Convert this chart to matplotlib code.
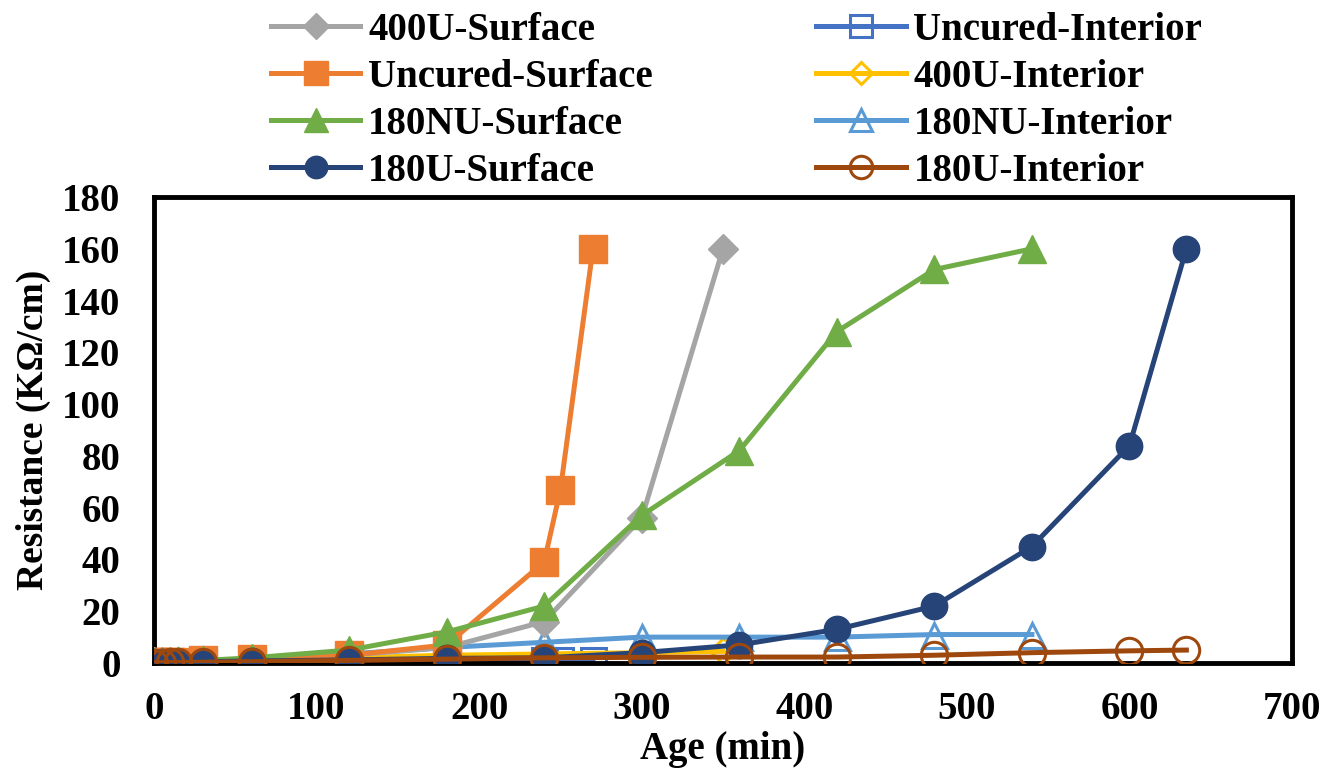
import numpy as np
import matplotlib.pyplot as plt

plt.rcParams['font.family'] = ['Liberation Serif', 'DejaVu Serif']
plt.rcParams['font.weight'] = 'bold'

# ===== 데이터 (Age min, Resistance KOhm/cm) =====
t_short = [0, 5, 10, 15, 30, 60, 120, 180, 240, 250, 270]
t_400 = [0, 5, 10, 15, 30, 60, 120, 180, 240, 300, 350]
t_180nu = [0, 5, 10, 15, 30, 60, 120, 180, 240, 300, 360, 420, 480, 540]
t_180u = [0, 5, 10, 15, 30, 60, 120, 180, 240, 300, 360, 420, 480, 540, 600, 635]

uncured_surf = [0.3, 0.3, 0.4, 0.4, 1.0, 1.5, 3.0, 7.0, 39, 67, 160]
s400u_surf = [0.2, 0.3, 0.3, 0.4, 0.8, 1.2, 3.0, 6.0, 16, 56, 160]
s180nu_surf = [0.3, 0.4, 0.5, 0.6, 1.0, 2.0, 5.0, 12, 22, 57, 82, 128, 152, 160]
s180u_surf = [0.2, 0.2, 0.3, 0.3, 0.5, 0.8, 1.2, 1.8, 2.0, 4.0, 7.0, 13, 22, 45, 84, 160]

uncured_int = [0.1, 0.1, 0.1, 0.1, 0.2, 0.3, 0.5, 0.8, 1.0, 1.0, 1.0]
s400u_int = [0.3, 0.3, 0.4, 0.4, 0.8, 1.2, 2.0, 3.0, 3.5, 4.0, 4.5]
s180nu_int = [0.3, 0.4, 0.5, 0.6, 1.0, 1.5, 3.5, 6.0, 8.0, 10, 10, 10, 11, 11]
s180u_int = [0.1, 0.1, 0.2, 0.2, 0.3, 0.5, 1.0, 1.5, 2.0, 2.2, 2.3, 2.3, 3.0, 4.0, 4.7, 5.0]

fig = plt.figure(figsize=(13.32, 7.75), dpi=100)
ax = fig.add_axes([0.1156, 0.1445, 0.8544, 0.6013])

lw = 3.6
h = {}
# 내부 (open markers)
h['ui'], = ax.plot(t_short, uncured_int, '-s', color='#4472C4', lw=lw, ms=18,
                   mfc='none', mew=2.2, label='Uncured-Interior', zorder=2)
h['4i'], = ax.plot(t_400, s400u_int, '-D', color='#FFC000', lw=lw, ms=13,
                   mfc='none', mew=2.2, label='400U-Interior', zorder=2)
h['ni'], = ax.plot(t_180nu, s180nu_int, '-^', color='#5B9BD5', lw=lw, ms=18,
                   mfc='none', mew=2.2, label='180NU-Interior', zorder=2)
# 표면 (filled markers)
h['4s'], = ax.plot(t_400, s400u_surf, '-D', color='#A5A5A5', lw=lw, ms=15,
                   label='400U-Surface', zorder=3)
h['us'], = ax.plot(t_short, uncured_surf, '-s', color='#ED7D31', lw=lw, ms=20,
                   label='Uncured-Surface', zorder=3)
h['ns'], = ax.plot(t_180nu, s180nu_surf, '-^', color='#70AD47', lw=lw, ms=20,
                   label='180NU-Surface', zorder=3)
h['cs'], = ax.plot(t_180u, s180u_surf, '-o', color='#264478', lw=lw, ms=19,
                   label='180U-Surface', zorder=4)
h['ci'], = ax.plot(t_180u, s180u_int, '-o', color='#9E480E', lw=lw, ms=19,
                   mfc='none', mew=2.2, label='180U-Interior', zorder=5)

ax.set_xlim(0, 700)
ax.set_ylim(0, 180)
ax.set_xticks(np.arange(0, 701, 100))
ax.set_yticks(np.arange(0, 181, 20))
ax.tick_params(axis='y', length=0, labelsize=28, pad=24)
ax.tick_params(axis='x', length=0, labelsize=28, pad=20)
for s in ax.spines.values():
    s.set_linewidth(3.5)
    s.set_clip_on(False)

ax.set_xlabel('Age (min)', fontsize=28, fontweight='bold', labelpad=2)
ax.set_ylabel('Resistance (KΩ/cm)', fontsize=27, fontweight='bold', labelpad=8)

order = ['4s', 'us', 'ns', 'cs', 'ui', '4i', 'ni', 'ci']
fig.legend([h[k] for k in order], [h[k].get_label() for k in order],
           ncol=2, loc='upper center', bbox_to_anchor=(0.553, 1.03),
           frameon=False, fontsize=28, handlelength=2.3, handletextpad=0.2,
           columnspacing=4.2, labelspacing=0.26, markerscale=0.85)

fig.savefig('out.png', dpi=100)
